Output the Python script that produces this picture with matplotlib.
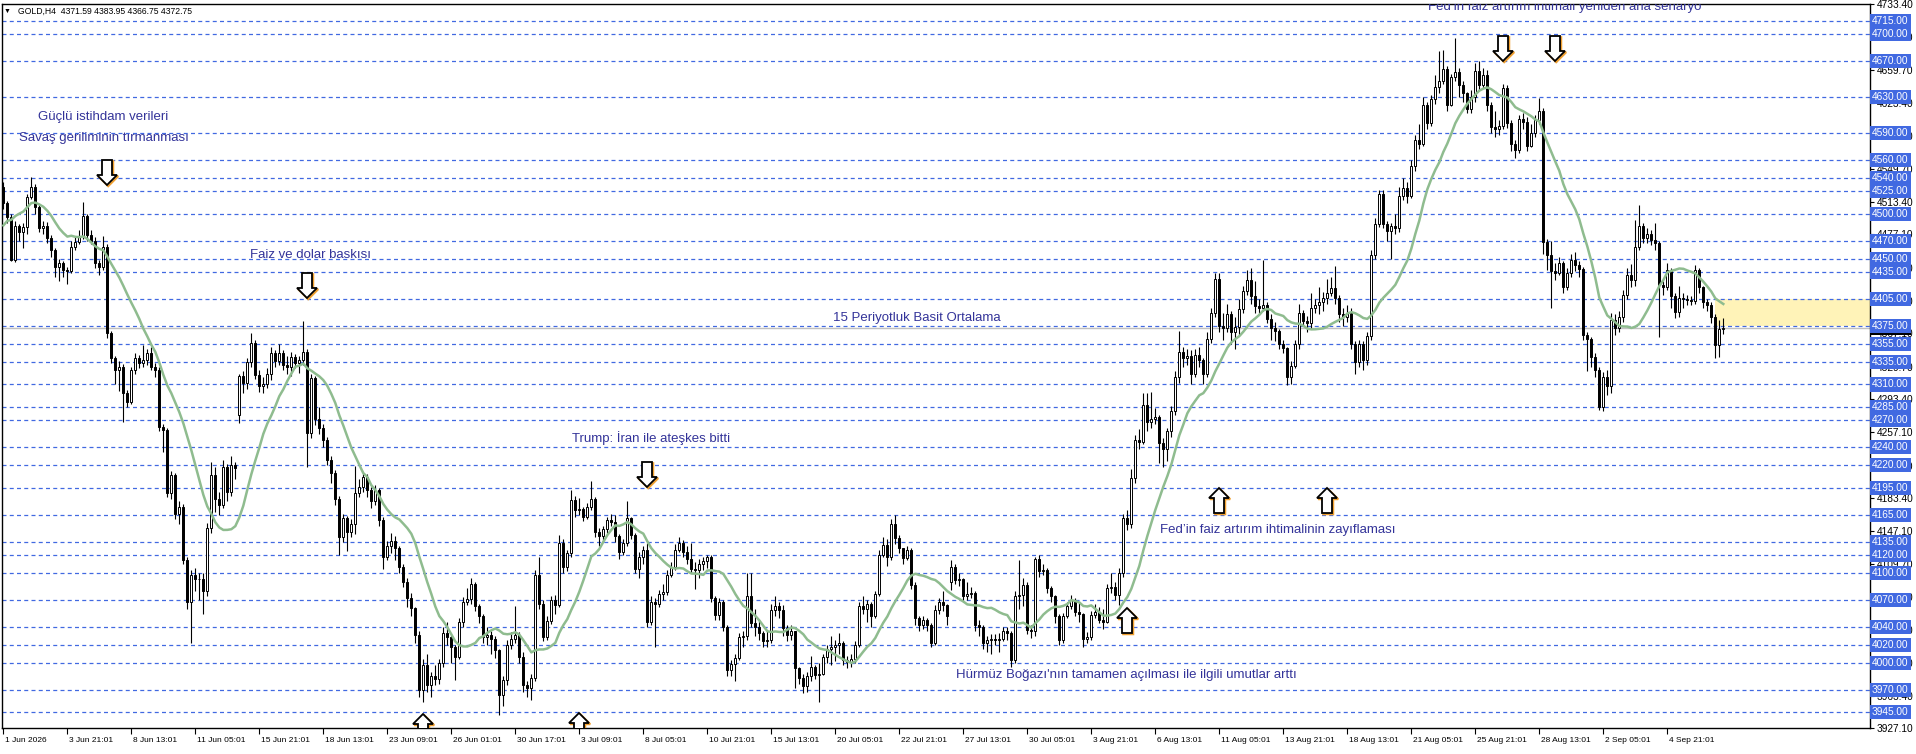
import numpy as np
import pandas as pd
import matplotlib
matplotlib.use("Agg")
import matplotlib.pyplot as plt
import matplotlib.transforms as mtransforms
from matplotlib.patches import Polygon, Rectangle

plt.rcParams['font.family'] = ['Liberation Sans', 'DejaVu Sans']

# --- GOLD H4, values ---
prior_closes = [4420, 4430, 4425, 4440, 4450, 4445, 4462,
                4500, 4515, 4525, 4540, 4545, 4550, 4546]
first_open = 4530
gap_opens = {59: 4276, 237: 4090}

closes = [
    4512, 4497, 4449, 4487, 4480, 4485, 4519, 4530, 4508, 4484,
    4486, 4473, 4460, 4441, 4445, 4437, 4436, 4463, 4469, 4475,
    4498, 4476, 4470, 4445, 4441, 4463, 4367, 4339, 4326, 4330,
    4300, 4291, 4326, 4339, 4334, 4337, 4345, 4330, 4326, 4263,
    4259, 4189, 4209, 4166, 4174, 4115, 4068, 4098, 4093, 4093,
    4080, 4150, 4209, 4183, 4176, 4218, 4190, 4220, 4217, 4319,
    4312, 4335, 4356, 4321, 4308, 4311, 4322, 4345, 4336, 4345,
    4332, 4330, 4341, 4334, 4337, 4346, 4256, 4317, 4272, 4262,
    4248, 4226, 4211, 4183, 4140, 4161, 4146, 4155, 4189, 4196,
    4207, 4192, 4180, 4192, 4159, 4118, 4130, 4136, 4128, 4107,
    4090, 4072, 4061, 4031, 3970, 3998, 3975, 3985, 3982, 4000,
    4033, 4029, 4018, 4007, 4046, 4068, 4071, 4088, 4063, 4052,
    4029, 4031, 4027, 4014, 3964, 3981, 4020, 4027, 4031, 4007,
    3975, 3972, 3983, 4098, 4066, 4029, 4047, 4070, 4065, 4133,
    4107, 4122, 4181, 4170, 4171, 4163, 4174, 4183, 4146, 4141,
    4149, 4159, 4157, 4141, 4124, 4133, 4161, 4142, 4105, 4118,
    4126, 4046, 4068, 4066, 4077, 4079, 4098, 4107, 4126, 4133,
    4124, 4116, 4105, 4103, 4110, 4113, 4118, 4072, 4053, 4068,
    4040, 3992, 3999, 4005, 4029, 4030, 4074, 4044, 4040, 4033,
    4024, 4026, 4059, 4063, 4059, 4039, 4031, 4035, 3994, 3983,
    3974, 3985, 3996, 3987, 3988, 4007, 4016, 4018, 4020, 4022,
    4003, 4001, 4004, 4020, 4063, 4060, 4066, 4052, 4077, 4120,
    4131, 4118, 4155, 4139, 4128, 4117, 4126, 4087, 4050, 4042,
    4048, 4042, 4022, 4059, 4068, 4064, 4052, 4107, 4092, 4093,
    4074, 4077, 4078, 4042, 4040, 4022, 4025, 4027, 4026, 4027,
    4035, 4033, 4003, 4074, 4076, 4087, 4037, 4035, 4116, 4102,
    4104, 4083, 4074, 4052, 4025, 4052, 4063, 4070, 4057, 4054,
    4027, 4029, 4053, 4057, 4048, 4046, 4083, 4085, 4076, 4100,
    4161, 4155, 4206, 4248, 4246, 4287, 4268, 4272, 4274, 4245,
    4238, 4258, 4280, 4318, 4346, 4340, 4342, 4322, 4343, 4337,
    4322, 4361, 4390, 4428, 4375, 4373, 4388, 4368, 4374, 4394,
    4414, 4426, 4408, 4397, 4395, 4398, 4383, 4373, 4370, 4355,
    4351, 4318, 4331, 4355, 4390, 4381, 4378, 4395, 4399, 4402,
    4406, 4412, 4417, 4406, 4388, 4385, 4390, 4355, 4335, 4355,
    4337, 4364, 4454, 4489, 4522, 4489, 4481, 4486, 4484, 4520,
    4529, 4520, 4553, 4582, 4578, 4621, 4601, 4628, 4641, 4648,
    4661, 4621, 4652, 4658, 4643, 4634, 4617, 4630, 4659, 4643,
    4655, 4621, 4597, 4594, 4598, 4640, 4601, 4578, 4571, 4606,
    4602, 4575, 4590, 4604, 4614, 4469, 4454, 4436, 4434, 4445,
    4419, 4434, 4449, 4443, 4439, 4365, 4361, 4341, 4326, 4285,
    4318, 4308, 4382, 4373, 4385, 4410, 4432, 4426, 4463, 4486,
    4473, 4478, 4471, 4467, 4421, 4418, 4437, 4408, 4391, 4406,
    4405, 4404, 4403, 4437, 4419, 4402, 4399, 4385, 4354, 4371.59,
    4372.75,
]

highs = [
    4535, 4514, 4500, 4492, 4489, 4490, 4522, 4541, 4533, 4510,
    4492, 4491, 4476, 4462, 4450, 4447, 4441, 4470, 4475, 4482,
    4513, 4500, 4482, 4474, 4449, 4475, 4466, 4370, 4342, 4336,
    4333, 4304, 4330, 4345, 4343, 4354, 4350, 4352, 4334, 4330,
    4266, 4262, 4214, 4212, 4180, 4177, 4118, 4104, 4106, 4100,
    4100, 4156, 4224, 4218, 4190, 4226, 4221, 4230, 4224, 4322,
    4325, 4340, 4367, 4360, 4326, 4318, 4328, 4352, 4348, 4355,
    4348, 4342, 4346, 4344, 4342, 4381, 4349, 4322, 4320, 4285,
    4266, 4252, 4230, 4215, 4186, 4166, 4164, 4160, 4219, 4205,
    4212, 4210, 4196, 4198, 4195, 4162, 4136, 4145, 4141, 4130,
    4110, 4094, 4078, 4062, 4035, 4004, 4010, 3990, 3998, 4004,
    4040, 4046, 4031, 4020, 4050, 4073, 4083, 4094, 4090, 4066,
    4055, 4040, 4036, 4030, 4016, 3985, 4026, 4034, 4063, 4034,
    4012, 3980, 3988, 4104, 4118, 4070, 4052, 4075, 4076, 4142,
    4138, 4126, 4193, 4186, 4184, 4174, 4178, 4202, 4185, 4150,
    4152, 4163, 4166, 4165, 4143, 4138, 4180, 4163, 4145, 4124,
    4130, 4133, 4075, 4072, 4081, 4088, 4104, 4112, 4132, 4140,
    4137, 4130, 4134, 4112, 4116, 4118, 4120, 4120, 4075, 4072,
    4070, 4042, 4003, 4010, 4033, 4036, 4100, 4100, 4060, 4048,
    4036, 4036, 4066, 4074, 4068, 4064, 4042, 4042, 4036, 3996,
    3988, 3990, 4008, 3998, 4000, 4010, 4020, 4030, 4026, 4033,
    4024, 4008, 4010, 4024, 4068, 4075, 4070, 4068, 4080, 4126,
    4140, 4138, 4160, 4165, 4142, 4128, 4130, 4128, 4090, 4052,
    4052, 4050, 4045, 4065, 4072, 4080, 4066, 4115, 4110, 4100,
    4095, 4090, 4085, 4080, 4048, 4042, 4030, 4032, 4032, 4033,
    4040, 4040, 4035, 4080, 4115, 4094, 4090, 4042, 4118, 4120,
    4110, 4106, 4086, 4076, 4054, 4056, 4068, 4076, 4072, 4068,
    4056, 4034, 4058, 4066, 4062, 4060, 4088, 4100, 4090, 4106,
    4166, 4170, 4216, 4254, 4260, 4300, 4300, 4302, 4284, 4276,
    4250, 4262, 4286, 4325, 4370, 4352, 4350, 4348, 4350, 4352,
    4340, 4368, 4395, 4434, 4434, 4390, 4400, 4392, 4385, 4405,
    4420, 4438, 4440, 4425, 4405, 4449, 4402, 4388, 4380, 4372,
    4360, 4352, 4336, 4360, 4400, 4393, 4386, 4412, 4405, 4418,
    4413, 4428, 4430, 4442, 4410, 4395, 4398, 4395, 4358, 4360,
    4358, 4368, 4460, 4495, 4527, 4527, 4492, 4490, 4500, 4530,
    4540, 4535, 4560, 4588, 4600, 4630, 4625, 4632, 4655, 4681,
    4682, 4665, 4656, 4696, 4662, 4648, 4636, 4638, 4668, 4670,
    4662, 4660, 4625, 4615, 4605, 4645, 4643, 4605, 4582, 4610,
    4612, 4608, 4600, 4610, 4629, 4618, 4472, 4470, 4445, 4452,
    4448, 4440, 4455, 4458, 4448, 4441, 4368, 4363, 4345, 4330,
    4324, 4326, 4390, 4388, 4392, 4415, 4440, 4444, 4493, 4510,
    4490, 4484, 4482, 4490, 4470, 4425, 4445, 4440, 4412, 4420,
    4412, 4410, 4408, 4443, 4440, 4420, 4405, 4402, 4388, 4382,
    4383.95,
]

lows = [
    4505, 4490, 4447, 4446, 4470, 4462, 4478, 4516, 4500, 4480,
    4478, 4468, 4452, 4430, 4425, 4430, 4422, 4434, 4460, 4466,
    4472, 4470, 4466, 4440, 4432, 4438, 4362, 4334, 4310, 4303,
    4268, 4285, 4288, 4322, 4328, 4330, 4332, 4326, 4318, 4258,
    4235, 4185, 4183, 4160, 4155, 4110, 4060, 4022, 4080, 4070,
    4055, 4075, 4145, 4168, 4165, 4172, 4180, 4186, 4205, 4267,
    4300, 4305, 4330, 4316, 4302, 4300, 4306, 4315, 4330, 4332,
    4326, 4322, 4320, 4328, 4323, 4332, 4218, 4250, 4265, 4255,
    4240, 4220, 4200, 4176, 4120, 4135, 4125, 4140, 4144, 4185,
    4190, 4185, 4172, 4176, 4152, 4105, 4115, 4122, 4115, 4100,
    4085, 4062, 4052, 4022, 3962, 3957, 3968, 3962, 3975, 3976,
    3996, 4020, 4000, 3981, 4004, 4040, 4064, 4066, 4058, 4045,
    4022, 4020, 4010, 4005, 3942, 3952, 3975, 4016, 4022, 4000,
    3968, 3962, 3959, 3980, 4060, 4024, 4025, 4043, 4055, 4062,
    4100, 4102, 4118, 4162, 4165, 4158, 4160, 4170, 4140, 4130,
    4135, 4145, 4152, 4135, 4116, 4120, 4130, 4138, 4100, 4095,
    4110, 4040, 4042, 4018, 4062, 4070, 4076, 4096, 4104, 4124,
    4118, 4110, 4100, 4082, 4095, 4104, 4106, 4068, 4048, 4048,
    4035, 3985, 3985, 3980, 4003, 4018, 4025, 4040, 4030, 4026,
    4018, 4018, 4022, 4052, 4050, 4030, 4024, 4026, 3972, 3976,
    3966, 3968, 3980, 3982, 3957, 3986, 4000, 3998, 4002, 4010,
    3998, 3994, 3996, 4000, 4018, 4054, 4046, 4040, 4050, 4074,
    4118, 4108, 4115, 4132, 4122, 4110, 4115, 4082, 4042, 4035,
    4038, 4035, 4018, 4020, 4055, 4058, 4042, 4081, 4088, 4086,
    4068, 4070, 4072, 4036, 4030, 4016, 4012, 4010, 4020, 4012,
    4024, 4026, 3996, 4000, 4060, 4063, 4032, 4028, 4030, 4096,
    4098, 4078, 4068, 4045, 4020, 4022, 4050, 4060, 4052, 4046,
    4018, 4022, 4026, 4050, 4044, 4038, 4044, 4078, 4070, 4064,
    4096, 4148, 4150, 4200, 4238, 4244, 4258, 4262, 4266, 4223,
    4218, 4225, 4252, 4276, 4312, 4330, 4332, 4310, 4318, 4330,
    4310, 4318, 4356, 4385, 4368, 4360, 4368, 4355, 4350, 4365,
    4390, 4410, 4400, 4390, 4388, 4392, 4378, 4360, 4358, 4350,
    4345, 4309, 4310, 4328, 4350, 4375, 4368, 4372, 4390, 4388,
    4392, 4400, 4408, 4400, 4380, 4375, 4380, 4350, 4322, 4330,
    4326, 4332, 4360, 4450, 4485, 4484, 4470, 4450, 4478, 4480,
    4515, 4512, 4518, 4548, 4572, 4575, 4595, 4598, 4622, 4635,
    4645, 4615, 4620, 4648, 4630, 4625, 4612, 4612, 4625, 4638,
    4640, 4615, 4590, 4585, 4588, 4595, 4596, 4570, 4562, 4568,
    4595, 4570, 4574, 4585, 4600, 4455, 4437, 4395, 4426, 4432,
    4412, 4415, 4430, 4436, 4430, 4360, 4325, 4330, 4318, 4282,
    4281, 4298, 4300, 4365, 4368, 4380, 4405, 4418, 4420, 4460,
    4468, 4468, 4465, 4460, 4363, 4410, 4415, 4395, 4384, 4385,
    4395, 4398, 4398, 4400, 4412, 4395, 4392, 4378, 4340, 4341,
    4366.75,
]

levels = [4715, 4700, 4670, 4630, 4590, 4560, 4540, 4525, 4500, 4470,
          4450, 4435, 4405, 4375, 4355, 4335, 4310, 4285, 4270, 4240,
          4220, 4195, 4165, 4135, 4120, 4100, 4070, 4040, 4020, 4000,
          3970, 3945]
axis_ticks = [4733.40, 4697.10, 4659.70, 4623.40, 4587.10, 4549.70, 4513.40,
              4477.10, 4439.70, 4403.40, 4367.10, 4329.70, 4293.40, 4257.10,
              4219.70, 4183.40, 4147.10, 4109.70, 4073.40, 4037.10, 3999.70,
              3963.40, 3927.10]
date_labels = ["1 Jun 2026", "3 Jun 21:01", "8 Jun 13:01", "11 Jun 05:01",
               "15 Jun 21:01", "18 Jun 13:01", "23 Jun 09:01", "26 Jun 01:01",
               "30 Jun 17:01", "3 Jul 09:01", "8 Jul 05:01", "10 Jul 21:01",
               "15 Jul 13:01", "20 Jul 05:01", "22 Jul 21:01", "27 Jul 13:01",
               "30 Jul 05:01", "3 Aug 21:01", "6 Aug 13:01", "11 Aug 05:01",
               "13 Aug 21:01", "18 Aug 13:01", "21 Aug 05:01", "25 Aug 21:01",
               "28 Aug 13:01", "2 Sep 05:01", "4 Sep 21:01"]
bars_per_label = 16
last_price = 4372.75
zone_low, zone_high = 4375, 4405
header = "GOLD,H4  4371.59 4383.95 4366.75 4372.75"

# --- prepare ---
closes = np.array(closes, dtype=float)
opens = np.r_[first_open, closes[:-1]]
for i, o in gap_opens.items():
    opens[i] = o
highs = np.maximum.reduce([np.array(highs, float), opens, closes])
lows = np.minimum.reduce([np.array(lows, float), opens, closes])
x = np.arange(len(closes))
ma = pd.Series(np.r_[prior_closes, closes]).rolling(15).mean().to_numpy()[len(prior_closes):]

# --- figure in pixel terms ---
W, H = 1916, 754
AX_L, AX_R, AX_T, AX_B = 2, 1870, 4.2, 728.4
PXB = 4.0
XMIN = -0.33
XMAX = XMIN + (AX_R - AX_L) / PXB
YMIN, YMAX = 3927.1, 4733.4

def to_data(px, py):
    return (XMIN + (px - AX_L) / PXB,
            YMAX - (py - AX_T) * (YMAX - YMIN) / (AX_B - AX_T))

fig = plt.figure(figsize=(W / 100, H / 100), dpi=100)
ax = fig.add_axes([AX_L / W, 1 - AX_B / H, (AX_R - AX_L) / W, (AX_B - AX_T) / H])
ax.set_xlim(XMIN, XMAX)
ax.set_ylim(YMIN, YMAX)

# levels, zone, last price
blue = '#4169E1'
for lv in levels:
    ax.axhline(lv, color=blue, lw=0.9, ls=(0, (3.2, 2.6)), zorder=1)
zx = to_data(1715, 0)[0]
ax.add_patch(Rectangle((zx, zone_low), XMAX - zx, zone_high - zone_low,
                       fc='#FFF3B8', ec='none', zorder=0.5))
ax.axhline(last_price, color='#C0C0C0', lw=1.0, zorder=1.5)

# candles
up = closes >= opens
ax.vlines(x, lows, highs, color='black', lw=0.8, zorder=2)
body = np.abs(closes - opens)
body = np.where(body < 0.6, 0.6, body)
ax.bar(x, body, bottom=np.minimum(opens, closes), width=0.5,
       color=np.where(up, 'white', 'black'), edgecolor='black', linewidth=0.7, zorder=3)

# 15-period SMA
ax.plot(x, ma, color='#8FBC8F', lw=1.8, zorder=4)

# arrows
def arrow(cx, ty, pointing_up):
    s = 1 if pointing_up else -1
    shape = [(0, 0), (-10, 10), (-5, 10), (-5, 25), (5, 25), (5, 10), (10, 10)]
    pts = [to_data(cx + dx, ty + s * dy) for dx, dy in shape]
    sh = [to_data(cx + dx + 1.2, ty + s * dy + 1.2) for dx, dy in shape]
    ax.add_patch(Polygon(sh, closed=True, fc='none', ec='#F0A030', lw=1.5, zorder=6))
    ax.add_patch(Polygon(pts, closed=True, fc='white', ec='black', lw=1.3, zorder=7))

for cx, ty in [(107, 185), (307, 298), (647, 487), (1503, 61), (1555, 61)]:
    arrow(cx, ty, False)
for cx, ty in [(423, 714), (579, 713), (1127, 608), (1219, 488), (1327, 488)]:
    arrow(cx, ty, True)

# annotations
notes = [
    (38, 117, "Güçlü istihdam verileri"),
    (19, 138, "Savaş geriliminin tırmanması"),
    (250, 255, "Faiz ve dolar baskısı"),
    (572, 438, "Trump: İran ile ateşkes bitti"),
    (833, 318, "15 Periyotluk Basit Ortalama"),
    (956, 675, "Hürmüz Boğazı'nın tamamen açılması ile ilgili umutlar arttı"),
    (1160, 530, "Fed’in faiz artırım ihtimalinin zayıflaması"),
    (1428, 7, "Fed’in faiz artırım ihtimali yeniden ana senaryo"),
]
for px, py, s in notes:
    xd, yd = to_data(px, py)
    ax.text(xd, yd, s, fontsize=9.5, color='#333399', ha='left', va='center',
            zorder=8, clip_on=True)

# header
fig.text(4 / W, 1 - 11 / H, "▼", fontsize=5, va='center', ha='left')
fig.text(18 / W, 1 - 11 / H, header, fontsize=6.2, va='center', ha='left')

# right price axis
ax.yaxis.tick_right()
ax.set_yticks(axis_ticks)
ax.set_yticklabels([f"{t:.2f}" for t in axis_ticks])
ax.tick_params(axis='y', length=3, width=0.8, labelsize=7.3, pad=2)
ytr = ax.get_yaxis_transform()
ax.text(1.0 + 2 / (AX_R - AX_L), last_price, f"{last_price:.2f}", transform=ytr,
        ha='left', va='center', fontsize=7.3, color='white', zorder=10, clip_on=False,
        bbox=dict(boxstyle='square,pad=0.2', fc='black', ec='none'))
for lv in levels:
    ax.text(1.0 + 2 / (AX_R - AX_L), lv, f"{lv:.2f}", transform=ytr,
            ha='left', va='center', fontsize=7.3, color='white', zorder=11, clip_on=False,
            bbox=dict(boxstyle='square,pad=0.2', fc=blue, ec='none'))

# time axis
ax.set_xticks(np.arange(len(date_labels)) * bars_per_label)
ax.set_xticklabels(date_labels)
ax.tick_params(axis='x', length=4, width=0.8, labelsize=6, pad=2)
shift = mtransforms.ScaledTranslation(2 / 100, 0, fig.dpi_scale_trans)
for lab in ax.get_xticklabels():
    lab.set_horizontalalignment('left')
    lab.set_transform(lab.get_transform() + shift)

for sp in ax.spines.values():
    sp.set_color('black')
    sp.set_linewidth(1.0)

fig.savefig("out.png", dpi=100, facecolor='white')
